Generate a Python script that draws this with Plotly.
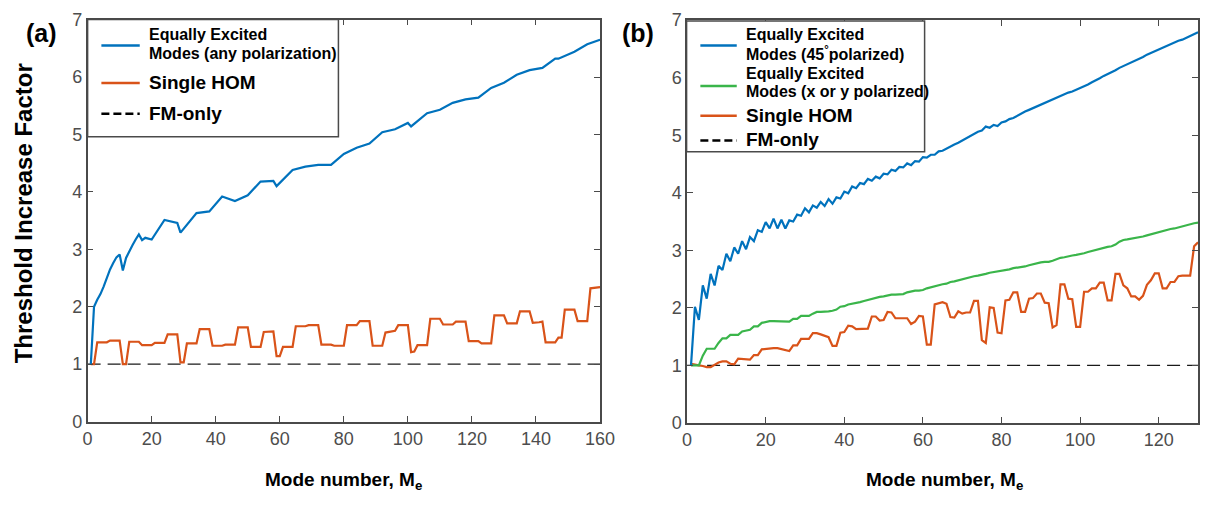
import plotly.graph_objects as go

W, H = 1215, 506

# ---------------- data ----------------
# (a) any polarization, modes 1..160
modes_a = list(range(1, 161))
single_hom_a = [
    1.00, 1.00, 1.38, 1.38, 1.38, 1.38, 1.41, 1.41, 1.41, 1.41,
    1.00, 1.00, 1.39, 1.39, 1.39, 1.39, 1.33, 1.33, 1.33, 1.33,
    1.37, 1.37, 1.37, 1.37, 1.52, 1.52, 1.52, 1.52, 1.03, 1.03,
    1.36, 1.36, 1.36, 1.36, 1.61, 1.61, 1.61, 1.61, 1.32, 1.32,
    1.32, 1.32, 1.34, 1.34, 1.34, 1.34, 1.64, 1.64, 1.64, 1.64,
    1.30, 1.30, 1.30, 1.30, 1.56, 1.56, 1.57, 1.57, 1.14, 1.14,
    1.30, 1.30, 1.30, 1.30, 1.66, 1.66, 1.66, 1.66, 1.68, 1.68,
    1.68, 1.68, 1.34, 1.34, 1.34, 1.34, 1.32, 1.32, 1.32, 1.32,
    1.68, 1.68, 1.68, 1.68, 1.75, 1.75, 1.75, 1.75, 1.32, 1.32,
    1.32, 1.32, 1.55, 1.56, 1.57, 1.58, 1.68, 1.68, 1.68, 1.68,
    1.21, 1.22, 1.33, 1.33, 1.33, 1.33, 1.79, 1.79, 1.79, 1.79,
    1.69, 1.69, 1.69, 1.69, 1.74, 1.74, 1.74, 1.74, 1.40, 1.40,
    1.40, 1.40, 1.36, 1.36, 1.36, 1.36, 1.85, 1.85, 1.85, 1.85,
    1.71, 1.71, 1.71, 1.71, 1.92, 1.92, 1.92, 1.92, 1.72, 1.72,
    1.73, 1.74, 1.38, 1.38, 1.38, 1.38, 1.46, 1.46, 1.95, 1.95,
    1.95, 1.95, 1.75, 1.75, 1.75, 1.75, 2.32, 2.33, 2.33, 2.34,
]
equal_modes_a = [1, 2, 3, 4, 5, 6, 7, 8, 9, 10, 11, 12, 13, 14, 15, 16, 17, 18,
                 20, 24, 28, 29, 34, 38, 42, 46, 50, 54, 58, 59, 64, 68, 72, 76,
                 80, 84, 88, 92, 96, 100, 101, 106, 110, 114, 118, 122, 126, 130,
                 134, 138, 142, 146, 147, 152, 156, 160]
equal_any_a = [1.00, 2.00, 2.12, 2.22, 2.35, 2.52, 2.65, 2.76, 2.86, 2.91, 2.63,
               2.85, 2.97, 3.07, 3.17, 3.26, 3.16, 3.20, 3.17, 3.51, 3.46, 3.29,
               3.63, 3.66, 3.92, 3.84, 3.94, 4.18, 4.19, 4.10, 4.38, 4.44, 4.47,
               4.47, 4.66, 4.77, 4.84, 5.04, 5.09, 5.20, 5.14, 5.37, 5.43, 5.55,
               5.61, 5.64, 5.81, 5.90, 6.04, 6.12, 6.16, 6.32, 6.32, 6.44, 6.57,
               6.65]
fm_modes_a = [0, 160]
fm_only_a = [1, 1]

# (b) polarization-resolved, modes 1..130
modes_b = list(range(1, 131))
equal_45_b = [
    1.00, 2.02, 1.79, 2.39, 2.16, 2.59, 2.39, 2.73, 2.66, 2.94,
    2.81, 3.05, 2.94, 3.16, 3.02, 3.23, 3.16, 3.35, 3.32, 3.49,
    3.38, 3.55, 3.38, 3.53, 3.38, 3.52, 3.50, 3.62, 3.60, 3.73,
    3.66, 3.78, 3.74, 3.84, 3.77, 3.89, 3.81, 3.92, 3.90, 4.02,
    3.99, 4.11, 4.08, 4.17, 4.15, 4.24, 4.21, 4.28, 4.25, 4.33,
    4.32, 4.40, 4.38, 4.45, 4.44, 4.51, 4.48, 4.55, 4.54, 4.62,
    4.61, 4.66, 4.66, 4.72, 4.73, 4.77, 4.80, 4.84, 4.87, 4.91,
    4.94, 4.99, 5.02, 5.06, 5.08, 5.15, 5.13, 5.18, 5.16, 5.22,
    5.24, 5.28, 5.30, 5.34, 5.37, 5.41, 5.44, 5.47, 5.50, 5.53,
    5.57, 5.60, 5.63, 5.66, 5.68, 5.71, 5.74, 5.76, 5.79, 5.81,
    5.84, 5.88, 5.92, 5.95, 5.99, 6.03, 6.06, 6.10, 6.13, 6.17,
    6.20, 6.23, 6.26, 6.30, 6.33, 6.36, 6.40, 6.43, 6.47, 6.50,
    6.53, 6.56, 6.59, 6.61, 6.64, 6.66, 6.69, 6.72, 6.76, 6.79,
]
equal_xy_b = [
    1.00, 1.00, 1.00, 1.17, 1.29, 1.29, 1.29, 1.39, 1.47, 1.47,
    1.53, 1.53, 1.53, 1.59, 1.61, 1.62, 1.68, 1.68, 1.74, 1.76,
    1.77, 1.77, 1.77, 1.77, 1.76, 1.76, 1.81, 1.81, 1.86, 1.86,
    1.86, 1.90, 1.93, 1.93, 1.93, 1.94, 1.95, 1.97, 2.02, 2.03,
    2.06, 2.07, 2.09, 2.10, 2.12, 2.14, 2.15, 2.17, 2.19, 2.20,
    2.22, 2.23, 2.23, 2.24, 2.24, 2.27, 2.29, 2.30, 2.30, 2.31,
    2.34, 2.36, 2.37, 2.39, 2.41, 2.42, 2.45, 2.46, 2.48, 2.50,
    2.52, 2.54, 2.55, 2.56, 2.57, 2.59, 2.61, 2.62, 2.63, 2.64,
    2.66, 2.67, 2.69, 2.70, 2.70, 2.72, 2.74, 2.76, 2.78, 2.79,
    2.80, 2.80, 2.82, 2.85, 2.87, 2.88, 2.90, 2.91, 2.92, 2.93,
    2.95, 2.97, 2.99, 3.01, 3.03, 3.04, 3.06, 3.07, 3.10, 3.15,
    3.18, 3.19, 3.20, 3.21, 3.22, 3.24, 3.26, 3.28, 3.30, 3.32,
    3.34, 3.35, 3.37, 3.38, 3.40, 3.41, 3.43, 3.45, 3.47, 3.48,
]
single_hom_b = [
    1.03, 1.01, 1.00, 0.99, 0.97, 0.97, 1.01, 1.05, 1.07, 1.07,
    1.03, 1.02, 1.12, 1.11, 1.10, 1.10, 1.18, 1.18, 1.28, 1.29,
    1.30, 1.30, 1.30, 1.28, 1.27, 1.25, 1.35, 1.35, 1.46, 1.46,
    1.46, 1.56, 1.56, 1.54, 1.52, 1.49, 1.34, 1.34, 1.57, 1.58,
    1.69, 1.68, 1.63, 1.63, 1.63, 1.64, 1.85, 1.85, 1.78, 1.79,
    1.93, 1.92, 1.82, 1.82, 1.82, 1.82, 1.72, 1.76, 1.86, 1.85,
    1.36, 1.36, 2.06, 2.08, 2.10, 2.07, 1.84, 1.83, 1.94, 1.90,
    1.92, 1.92, 2.12, 2.12, 1.44, 1.39, 2.01, 2.00, 1.57, 1.56,
    2.13, 2.14, 2.27, 2.27, 1.93, 1.93, 2.16, 2.17, 2.25, 2.25,
    2.09, 2.08, 1.66, 1.70, 2.41, 2.41, 2.16, 2.15, 1.67, 1.67,
    2.28, 2.28, 2.34, 2.34, 2.44, 2.44, 2.13, 2.13, 2.59, 2.59,
    2.39, 2.34, 2.20, 2.20, 2.14, 2.21, 2.40, 2.48, 2.60, 2.60,
    2.34, 2.34, 2.45, 2.45, 2.55, 2.56, 2.56, 2.56, 3.07, 3.14,
]
fm_modes_b = [0, 130]
fm_only_b = [1, 1]

x_ticks_a = [0, 20, 40, 60, 80, 100, 120, 140, 160]
x_ticks_b = [0, 20, 40, 60, 80, 100, 120]
y_ticks = [0, 1, 2, 3, 4, 5, 6, 7]

# ---------------- style ----------------
BLUE = "#0072BD"
ORANGE = "#D95319"
GREEN = "#3AB54A"
AXIS = "#4a4a4a"
FONT = "Liberation Sans, Arial, Helvetica, sans-serif"


def px(x):
    return x / W


def py(y):
    return 1 - y / H


fig = go.Figure()


def add_line(x, y, color, xa, ya, width=2.2, dash=None):
    fig.add_trace(go.Scatter(
        x=x, y=y, mode="lines", xaxis=xa, yaxis=ya, showlegend=False,
        hoverinfo="skip",
        line=dict(color=color, width=width, dash=dash),
    ))


# panel (a)
add_line(fm_modes_a, fm_only_a, "#1a1a1a", "x", "y", width=1.2, dash="13px,7px")
add_line(modes_a, single_hom_a, ORANGE, "x", "y")
add_line(equal_modes_a, equal_any_a, BLUE, "x", "y")

# panel (b)
add_line(fm_modes_b, fm_only_b, "#1a1a1a", "x2", "y2", width=1.2, dash="13px,7px")
add_line(modes_b, single_hom_b, ORANGE, "x2", "y2")
add_line(modes_b, equal_xy_b, GREEN, "x2", "y2")
add_line(modes_b, equal_45_b, BLUE, "x2", "y2")

axis_common = dict(
    showline=True, mirror="ticks", linecolor=AXIS, linewidth=1.5,
    ticks="inside", ticklen=6, tickwidth=1.3, tickcolor=AXIS,
    showgrid=False, zeroline=False,
    tickfont=dict(family=FONT, size=18, color="#4d4d4d"),
)

fig.update_layout(
    width=W, height=H,
    margin=dict(l=0, r=0, t=0, b=0),
    paper_bgcolor="white", plot_bgcolor="white",
    xaxis=dict(domain=[px(84), px(605)], range=[0, 160], tickvals=x_ticks_a,
               anchor="y", **axis_common),
    yaxis=dict(domain=[py(428.5), py(10)], range=[0, 7], tickvals=y_ticks,
               anchor="x", **axis_common),
    xaxis2=dict(domain=[px(693.5), px(1213)], range=[0, 130], tickvals=x_ticks_b,
                anchor="y2", **axis_common),
    yaxis2=dict(domain=[py(430), py(10.5)], range=[0, 7], tickvals=y_ticks,
                anchor="x2", **axis_common),
)

shapes = []
annotations = []


def text(x, y, s, size, bold=True, anchor="left", angle=0, color="black"):
    annotations.append(dict(
        x=px(x), y=py(y), xref="paper", yref="paper", text=s,
        showarrow=False, xanchor=anchor, yanchor="middle", textangle=angle,
        font=dict(family=FONT, size=size, color=color),
    ))


def legend_box(x0, y0, x1, y1):
    shapes.append(dict(type="rect", xref="paper", yref="paper",
                       x0=px(x0), x1=px(x1), y0=py(y1), y1=py(y0),
                       line=dict(color=AXIS, width=1.5), fillcolor="white",
                       layer="above"))


def legend_sample(x0, x1, y, color, dash=None, width=2.5):
    shapes.append(dict(type="line", xref="paper", yref="paper",
                       x0=px(x0), x1=px(x1), y0=py(y), y1=py(y),
                       line=dict(color=color, width=width, dash=dash),
                       layer="above"))


# legend (a)
legend_box(84, 10, 339, 132)
legend_sample(98, 137, 37, BLUE)
text(144, 26, "<b>Equally Excited</b>", 16)
text(144, 45, "<b>Modes (any polarization)</b>", 16)
legend_sample(98, 137, 76, ORANGE)
text(144, 76, "<b>Single HOM</b>", 19)
legend_sample(98, 137, 108, "black", dash="8px,4px", width=2.5)
text(144, 108, "<b>FM-only</b>", 19)

# legend (b)
legend_box(693, 11.5, 935, 147.5)
legend_sample(707, 744, 37, BLUE)
text(751, 26, "<b>Equally Excited</b>", 16)
text(751, 45, "<b>Modes (45<sup>°</sup>polarized)</b>", 16)
legend_sample(707, 744, 79, GREEN)
text(751, 66, "<b>Equally Excited</b>", 16)
text(751, 85, "<b>Modes (x or y polarized)</b>", 16)
legend_sample(707, 744, 110, ORANGE)
text(751, 110, "<b>Single HOM</b>", 19)
legend_sample(707, 744, 136, "black", dash="8px,4px", width=2.5)
text(751, 135, "<b>FM-only</b>", 19)

# panel labels and axis titles
text(37, 24, "<b>(a)</b>", 25, anchor="center")
text(644, 24, "<b>(b)</b>", 25, anchor="center")
text(19, 212, "<b>Threshold Increase Factor</b>", 24, anchor="center", angle=-90)
text(344, 490, "<b>Mode number, M<sub>e</sub></b>", 19, anchor="center")
text(955, 490, "<b>Mode number, M<sub>e</sub></b>", 19, anchor="center")

fig.update_layout(shapes=shapes, annotations=annotations)

fig.write_html("out.html")
